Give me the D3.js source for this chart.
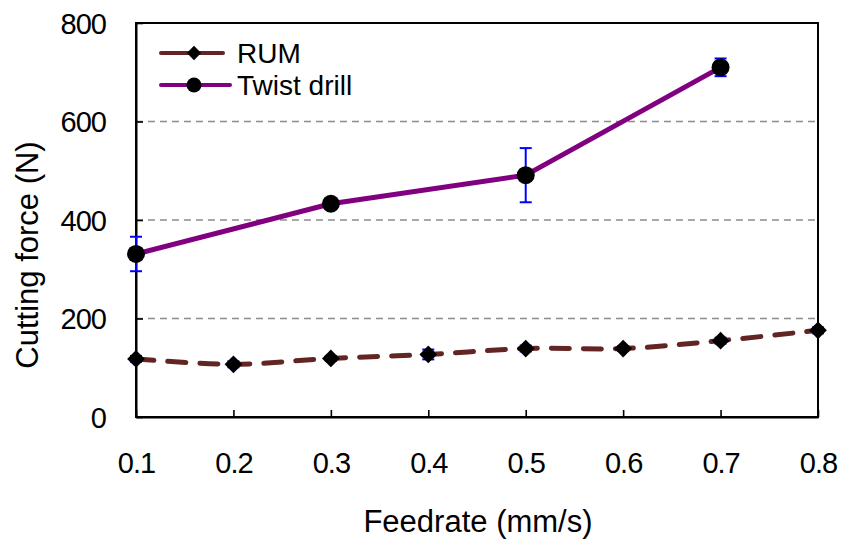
<!DOCTYPE html>
<html>
<head>
<meta charset="utf-8">
<script src="https://cdn.jsdelivr.net/npm/d3@7"></script>
<style>
  body { margin: 0; background: #fff; }
  svg { font-family: "Liberation Sans", Arial, sans-serif; }
</style>
</head>
<body>
<div id="chart"></div>
<script>
// data
var feedrates = [0.1, 0.2, 0.3, 0.4, 0.5, 0.6, 0.7, 0.8];
var rumForce = [118, 107, 119, 127, 139, 139, 155, 176];
var rumErr = [6, 6, 5, 10, 6, 5, 6, 6];
var drillFeed = [0.1, 0.3, 0.5, 0.7];
var drillForce = [331, 433, 491, 710];
var drillErr = [35, 4, 55, 18];
var yTicks = [0, 200, 400, 600, 800];

var width = 846, height = 544,
    margin = {top: 23, right: 28, bottom: 127, left: 136},
    w = width - margin.left - margin.right,
    h = height - margin.top - margin.bottom;

var svg = d3.select("#chart").append("svg")
    .attr("width", width)
    .attr("height", height);

var x = d3.scaleLinear().domain([0.1, 0.8]).range([0, w]);
var y = d3.scaleLinear().domain([0, 800]).range([h, 0]);

var g = svg.append("g")
    .attr("transform", "translate(" + margin.left + "," + margin.top + ")");

// dashed grid
g.selectAll(".grid").data(yTicks.filter(function(d) { return d > 0 && d < 800; }))
  .enter().append("line")
    .attr("x1", 0).attr("x2", w)
    .attr("y1", function(d) { return y(d); })
    .attr("y2", function(d) { return y(d); })
    .attr("stroke", "#8c8c8c")
    .attr("stroke-width", 1.6)
    .attr("stroke-dasharray", "7,5");

// frame
g.append("rect")
    .attr("width", w).attr("height", h)
    .attr("fill", "none")
    .attr("stroke", "#000")
    .attr("stroke-width", 2);

var xAxis = g.append("g")
    .attr("transform", "translate(0," + h + ")")
    .call(d3.axisBottom(x).tickValues(feedrates).tickFormat(d3.format(".1f"))
      .tickSizeInner(-7).tickSizeOuter(0));
var yAxis = g.append("g")
    .call(d3.axisLeft(y).tickValues(yTicks).tickFormat(d3.format("d"))
      .tickSizeInner(-7).tickSizeOuter(0));

[xAxis, yAxis].forEach(function(a) {
  a.attr("font-size", 29).attr("font-family", "Liberation Sans, Arial, sans-serif");
  a.select(".domain").attr("stroke-width", 2);
  a.selectAll(".tick line").attr("stroke-width", 1.6);
  a.selectAll("text").attr("fill", "#000").attr("letter-spacing", -1);
});
xAxis.selectAll("text").attr("y", 56).attr("dy", 0);
yAxis.selectAll("text").attr("x", -30).attr("dy", "0.36em");

// axis titles
svg.append("text")
    .attr("x", 478)
    .attr("y", 532)
    .attr("text-anchor", "middle")
    .attr("font-size", 31)
    .text("Feedrate (mm/s)");
svg.append("text")
    .attr("transform", "translate(38,255) rotate(-90)")
    .attr("text-anchor", "middle")
    .attr("font-size", 31)
    .text("Cutting force (N)");

var rum = feedrates.map(function(f, i) { return {x: f, y: rumForce[i], e: rumErr[i]}; });
var drill = drillFeed.map(function(f, i) { return {x: f, y: drillForce[i], e: drillErr[i]}; });

var line = d3.line()
    .x(function(d) { return x(d.x); })
    .y(function(d) { return y(d.y); });
var curve = d3.line()
    .curve(d3.curveCatmullRom.alpha(0.5))
    .x(function(d) { return x(d.x); })
    .y(function(d) { return y(d.y); });

function errorBars(data) {
  var eb = g.append("g").attr("stroke", "#0000ff").attr("stroke-width", 2);
  data.forEach(function(d) {
    eb.append("line")
      .attr("x1", x(d.x)).attr("x2", x(d.x))
      .attr("y1", y(d.y - d.e)).attr("y2", y(d.y + d.e));
    [d.y - d.e, d.y + d.e].forEach(function(v) {
      eb.append("line")
        .attr("x1", x(d.x) - 6).attr("x2", x(d.x) + 6)
        .attr("y1", y(v)).attr("y2", y(v));
    });
  });
}

errorBars(drill);
errorBars(rum);

g.append("path").datum(rum)
    .attr("d", curve)
    .attr("fill", "none")
    .attr("stroke", "#632523")
    .attr("stroke-width", 5)
    .attr("stroke-linecap", "round")
    .attr("stroke-dasharray", "18,14");

g.append("path").datum(drill)
    .attr("d", line)
    .attr("fill", "none")
    .attr("stroke", "#800080")
    .attr("stroke-width", 5);

var diamond = d3.symbol().type(d3.symbolDiamond2).size(200);

g.selectAll(".rum").data(rum).enter().append("path")
    .attr("transform", function(d) { return "translate(" + x(d.x) + "," + y(d.y) + ")"; })
    .attr("d", diamond)
    .attr("fill", "#000");

g.selectAll(".drill").data(drill).enter().append("circle")
    .attr("cx", function(d) { return x(d.x); })
    .attr("cy", function(d) { return y(d.y); })
    .attr("r", 9)
    .attr("fill", "#000");

// legend
var legend = svg.append("g");
var items = [
  {name: "RUM", color: "#632523", y: 53, marker: "diamond", x2: 223},
  {name: "Twist drill", color: "#800080", y: 85, marker: "circle", x2: 230}
];
items.forEach(function(it) {
  legend.append("line")
    .attr("x1", 161).attr("x2", it.x2)
    .attr("y1", it.y).attr("y2", it.y)
    .attr("stroke", it.color)
    .attr("stroke-width", 4)
    .attr("stroke-linecap", "round");
  if (it.marker == "diamond") {
    legend.append("path")
      .attr("transform", "translate(194," + it.y + ")")
      .attr("d", d3.symbol().type(d3.symbolDiamond2).size(130))
      .attr("fill", "#000");
  } else {
    legend.append("circle")
      .attr("cx", 194).attr("cy", it.y).attr("r", 7.5)
      .attr("fill", "#000");
  }
  legend.append("text")
    .attr("x", 237).attr("y", it.y)
    .attr("dy", "0.36em")
    .attr("font-size", 28)
    .text(it.name);
});
</script>
</body>
</html>
